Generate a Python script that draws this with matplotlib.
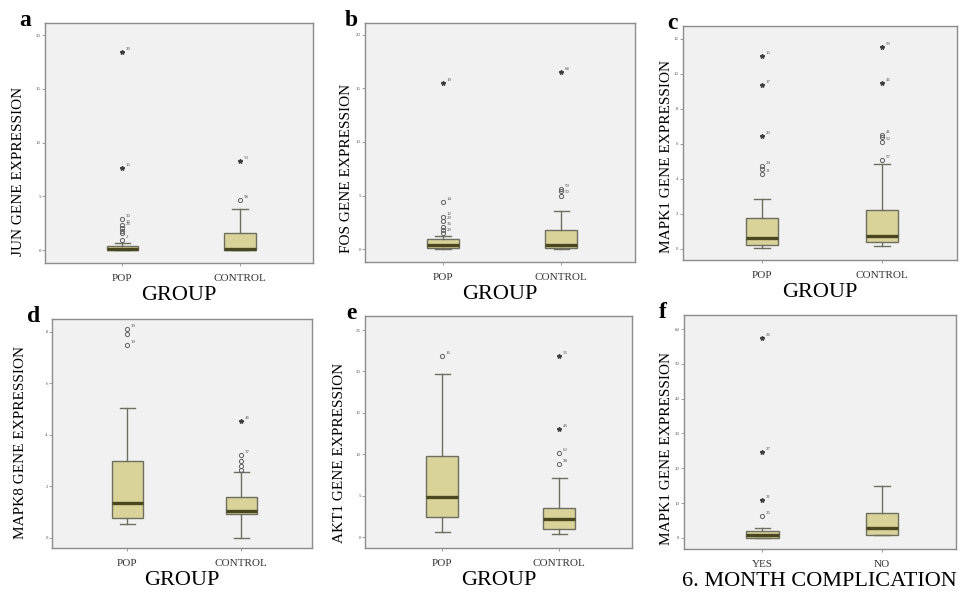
import matplotlib
matplotlib.use("Agg")
import matplotlib.pyplot as plt

plt.rcParams["font.family"] = ["Liberation Serif", "DejaVu Serif"]

groups = ["POP", "CONTROL"]
complication = ["YES", "NO"]

# box summaries per group: whisker low, Q1, median, Q3, whisker high
jun_box = [[0.0, 0.05, 0.15, 0.35, 0.7], [0.0, 0.05, 0.15, 1.6, 3.8]]
jun_out = [[0.9, 1.6, 1.8, 2.1, 2.3, 2.9], [4.65]]
jun_out_ids = [["2", "", "", "26", "12", "30"], ["58"]]
jun_ext = [[7.6, 18.4], [8.3]]
jun_ext_ids = [["15", "39"], ["53"]]

fos_box = [[0.0, 0.15, 0.35, 0.9, 1.2], [0.0, 0.15, 0.4, 1.8, 3.55]]
fos_out = [[1.5, 1.8, 2.1, 2.6, 3.0, 4.4], [5.0, 5.4, 5.6]]
fos_out_ids = [["20", "", "36", "29", "12", "14"], ["50", "", "59"]]
fos_ext = [[15.5], [16.5]]
fos_ext_ids = [["19"], ["68"]]

mapk1_box = [[0.05, 0.23, 0.6, 1.77, 2.86], [0.17, 0.4, 0.75, 2.23, 4.85]]
mapk1_out = [[4.3, 4.55, 4.75], [5.1, 6.1, 6.4, 6.5]]
mapk1_out_ids = [["31", "", "24"], ["57", "52", "", "41"]]
mapk1_ext = [[6.45, 9.35, 11.0], [9.5, 11.55]]
mapk1_ext_ids = [["20", "17", "15"], ["46", "59"]]

mapk8_box = [[0.54, 0.78, 1.36, 2.99, 5.05], [0.0, 0.93, 1.05, 1.6, 2.56]]
mapk8_out = [[7.5, 7.9, 8.1], [2.65, 2.8, 3.0, 3.2]]
mapk8_out_ids = [["19", "", "39"], ["", "", "", "37"]]
mapk8_ext = [[], [4.55]]
mapk8_ext_ids = [[], ["46"]]

akt1_box = [[0.6, 2.4, 4.8, 9.8, 19.7], [0.35, 1.0, 2.2, 3.5, 7.1]]
akt1_out = [[21.9], [8.8, 10.1]]
akt1_out_ids = [["16"], ["58", "62"]]
akt1_ext = [[], [13.0, 21.9]]
akt1_ext_ids = [[], ["46", "35"]]

comp_box = [[0.0, 0.1, 0.9, 2.0, 2.9], [0.9, 0.9, 2.9, 7.2, 15.0]]
comp_out = [[6.3], []]
comp_out_ids = [["25"], []]
comp_ext = [[10.9, 24.6, 57.5], []]
comp_ext_ids = [["31", "27", "26"], []]

BOX_FILL = "#d9d39a"
EDGE = "#6e6e60"
MEDIAN = "#4a4620"


def draw(ax, box, out, out_ids, ext, ext_ids, cats, yticks, ylim, ylabel, xlabel,
         letter, lab_x, lab_y, let_x):
    stats = []
    for b in box:
        stats.append(dict(whislo=b[0], q1=b[1], med=b[2], q3=b[3], whishi=b[4], fliers=[]))
    ax.bxp(stats, positions=[1, 2], widths=0.27, patch_artist=True, showfliers=False,
           boxprops=dict(facecolor=BOX_FILL, edgecolor=EDGE, linewidth=1.0),
           medianprops=dict(color=MEDIAN, linewidth=2.4),
           whiskerprops=dict(color=EDGE, linewidth=1.0),
           capprops=dict(color=EDGE, linewidth=1.0), capwidths=0.13)
    for i in range(2):
        pos = i + 1
        ax.plot([pos] * len(out[i]), out[i], "o", ms=3.0, mfc="none", mec="#606060", mew=0.7)
        ax.plot([pos] * len(ext[i]), ext[i], "*", ms=3.2, color="#404040")
        for v, t in list(zip(out[i], out_ids[i])) + list(zip(ext[i], ext_ids[i])):
            if t:
                ax.annotate(t, (pos, v), xytext=(2.5, 1.5), textcoords="offset points",
                            fontsize=3.5, color="#505050")
    ax.set_xlim(0.34, 2.62)
    ax.set_ylim(*ylim)
    ax.set_yticks(yticks)
    ax.set_yticklabels([str(t) for t in yticks], fontsize=3.5, color="#555555")
    ax.set_xticks([1, 2])
    ax.set_xticklabels(cats, fontsize=8, color="#333333")
    ax.tick_params(axis="y", length=2, width=0.5, color="#777777", pad=1)
    ax.tick_params(axis="x", length=2, width=0.5, color="#777777", pad=6)
    ax.set_facecolor("#f1f1f1")
    for s in ax.spines.values():
        s.set_color("#8c8c8c")
        s.set_linewidth(1.0)
    ax.set_ylabel(ylabel, fontsize=11)
    ax.yaxis.set_label_coords(lab_x, lab_y)
    ax.set_xlabel(xlabel, fontsize=16, labelpad=2)
    ax.text(let_x, 1.01, letter, transform=ax.transAxes, fontsize=17, fontweight="bold",
            va="center", ha="center")


fig = plt.figure(figsize=(9.63, 5.92), dpi=100)

ax_a = fig.add_axes([0.0467, 0.5557, 0.278, 0.405])
ax_b = fig.add_axes([0.379, 0.5574, 0.280, 0.404])
ax_c = fig.add_axes([0.709, 0.561, 0.2845, 0.395])
ax_d = fig.add_axes([0.054, 0.0743, 0.270, 0.387])
ax_e = fig.add_axes([0.379, 0.0743, 0.277, 0.392])
ax_f = fig.add_axes([0.710, 0.0726, 0.2825, 0.395])

draw(ax_a, jun_box, jun_out, jun_out_ids, jun_ext, jun_ext_ids, groups,
     [0, 5, 10, 15, 20], (-1.2, 21.1), "JUN GENE EXPRESSION", "GROUP", "a",
     -0.075, 0.38, -0.075)
draw(ax_b, fos_box, fos_out, fos_out_ids, fos_ext, fos_ext_ids, groups,
     [0, 5, 10, 15, 20], (-1.2, 21.1), "FOS GENE EXPRESSION", "GROUP", "b",
     -0.045, 0.39, -0.05)
draw(ax_c, mapk1_box, mapk1_out, mapk1_out_ids, mapk1_ext, mapk1_ext_ids, groups,
     [0, 2, 4, 6, 8, 10, 12], (-0.63, 12.74), "MAPK1 GENE EXPRESSION", "GROUP", "c",
     -0.036, 0.44, -0.038)
draw(ax_d, mapk8_box, mapk8_out, mapk8_out_ids, mapk8_ext, mapk8_ext_ids, groups,
     [0, 2, 4, 6, 8], (-0.39, 8.5), "MAPK8 GENE EXPRESSION", "GROUP", "d",
     -0.095, 0.46, -0.07)
draw(ax_e, akt1_box, akt1_out, akt1_out_ids, akt1_ext, akt1_ext_ids, groups,
     [0, 5, 10, 15, 20, 25], (-1.33, 26.7), "AKT1 GENE EXPRESSION", "GROUP", "e",
     -0.072, 0.41, -0.05)
draw(ax_f, comp_box, comp_out, comp_out_ids, comp_ext, comp_ext_ids, complication,
     [0, 10, 20, 30, 40, 50, 60], (-3.2, 64), "MAPK1 GENE EXPRESSION",
     "6. MONTH COMPLICATION", "f", -0.04, 0.43, -0.078)

fig.savefig("out.png", dpi=100)
